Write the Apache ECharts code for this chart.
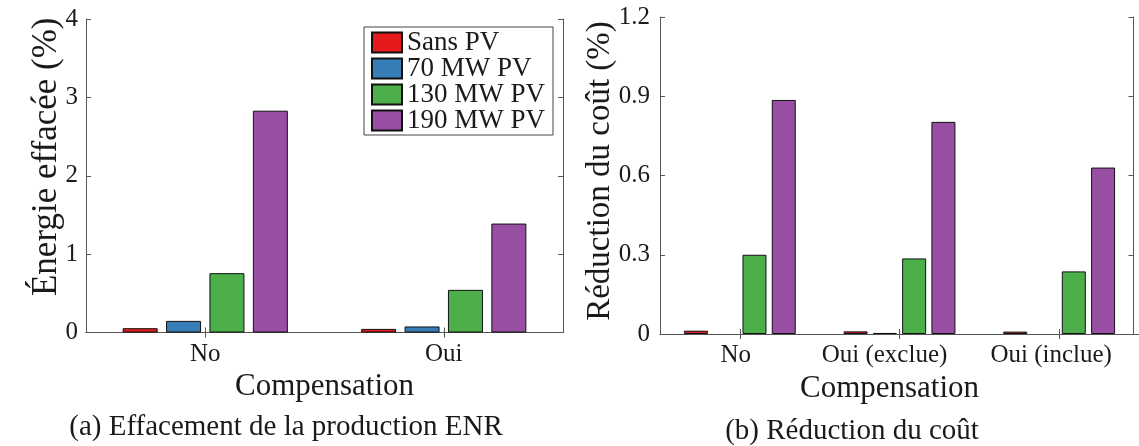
<!DOCTYPE html>
<html>
<head>
<meta charset="utf-8">
<script src="https://cdn.jsdelivr.net/npm/echarts@6/dist/echarts.min.js"></script>
<style>
html,body{margin:0;padding:0;background:#fff;}
#c{width:1139px;height:446px;}
</style>
</head>
<body>
<div id="c"></div>
<script>
// ---- data ----
const catsA = ['No', 'Oui'];
const catsB = ['No', 'Oui (exclue)', 'Oui (inclue)'];
const seriesNames = ['Sans PV', '70 MW PV', '130 MW PV', '190 MW PV'];
const sansPV_A = [0.055, 0.046];
const pv70_A = [0.148, 0.077];
const pv130_A = [0.757, 0.544];
const pv190_A = [2.83, 1.39];
const sansPV_B = [0.0125, 0.010, 0.009];
const pv70_B = [null, 0.004, null];
const pv130_B = [0.30, 0.286, 0.237];
const pv190_B = [0.886, 0.803, 0.63];
const yTicksA = [0, 1, 2, 3, 4];
const yTicksB = [0, 0.3, 0.6, 0.9, 1.2];
const colors = ['#E41A1C', '#377EB8', '#4DAF4A', '#984EA3'];

const FONT = '"Liberation Serif", "Times New Roman", "DejaVu Serif", serif';
const AX = '#555';
const TXT = '#1a1a1a';

function valAxis(grid, ticks, opts) {
  return Object.assign({
    type: 'value', gridIndex: grid,
    min: ticks[0], max: ticks[ticks.length - 1],
    interval: ticks[1] - ticks[0],
    axisLine: {show: true, lineStyle: {color: AX, width: 1}},
    axisTick: {show: true, inside: true, length: 5, lineStyle: {color: AX}},
    splitLine: {show: false},
    axisLabel: {show: true, fontFamily: FONT, fontSize: 25, color: TXT,
      formatter: v => String(v)}
  }, opts);
}
function catAxis(grid, cats, opts) {
  return Object.assign({
    type: 'category', gridIndex: grid, data: cats, boundaryGap: true,
    axisLine: {show: true, lineStyle: {color: AX, width: 1}},
    axisTick: {show: true, inside: true, length: 5, alignWithLabel: true, interval: 0, lineStyle: {color: AX}},
    splitLine: {show: false},
    axisLabel: {show: true, interval: 0, hideOverlap: false, fontFamily: FONT, fontSize: 25, color: TXT, margin: 9}
  }, opts);
}

const dataA = [sansPV_A, pv70_A, pv130_A, pv190_A];
const dataB = [sansPV_B, pv70_B, pv130_B, pv190_B];
const series = [];
dataA.forEach((d, i) => series.push({
  name: seriesNames[i], type: 'bar', xAxisIndex: 0, yAxisIndex: 0,
  data: d, barWidth: 35, barGap: '24%',
  itemStyle: {color: colors[i], borderColor: '#111', borderWidth: 1}
}));
dataB.forEach((d, i) => series.push({
  name: seriesNames[i], type: 'bar', xAxisIndex: 2, yAxisIndex: 2,
  data: d, barWidth: 24, barGap: '22%',
  itemStyle: {color: colors[i], borderColor: '#111', borderWidth: 1}
}));

// right-panel tick label nudges (labels sit slightly left of their ticks in the reference)
const richB = {
  l0: {fontFamily: FONT, fontSize: 25, color: TXT, padding: [0, 8, 0, 0]},
  l1: {fontFamily: FONT, fontSize: 25, color: TXT, padding: [0, 30, 0, 0]},
  l2: {fontFamily: FONT, fontSize: 25, color: TXT, padding: [0, 16, 0, 0]}
};

const chart = echarts.init(document.getElementById('c'), null, {renderer: 'canvas'});
chart.setOption({
  animation: false,
  backgroundColor: '#fff',
  grid: [
    {left: 86, top: 19, width: 477, height: 313.5},
    {left: 660, top: 17, width: 483.5, height: 317}
  ],
  xAxis: [
    catAxis(0, catsA, {position: 'bottom', name: 'Compensation', nameLocation: 'middle', nameGap: 33,
      nameTextStyle: {fontFamily: FONT, fontSize: 31, color: TXT}}),
    catAxis(0, catsA, {position: 'top', axisLabel: {show: false}}),
    catAxis(1, catsB, {position: 'bottom', name: 'Compensation', nameLocation: 'middle', nameGap: 34,
      nameTextStyle: {fontFamily: FONT, fontSize: 31, color: TXT, padding: [0, 20, 0, 0]},
      axisLabel: {show: true, interval: 0, hideOverlap: false, fontFamily: FONT, fontSize: 25, color: TXT, margin: 9,
        formatter: (v, i) => '{l' + i + '|' + v + '}', rich: richB}}),
    catAxis(1, catsB, {position: 'top', axisLabel: {show: false}})
  ],
  yAxis: [
    valAxis(0, yTicksA, {position: 'left', name: 'Énergie effacée (%)', nameLocation: 'middle', nameGap: 22,
      nameMoveOverlap: false,
      nameTextStyle: {fontFamily: FONT, fontSize: 35, color: TXT, padding: [0, 0, 0, 38]},
      axisLabel: {show: true, fontFamily: FONT, fontSize: 25, color: TXT, margin: 8}}),
    valAxis(0, yTicksA, {position: 'right', axisLabel: {show: false}}),
    valAxis(1, yTicksB, {position: 'left', name: 'Réduction du coût (%)', nameLocation: 'middle', nameGap: 43,
      nameMoveOverlap: false,
      nameTextStyle: {fontFamily: FONT, fontSize: 33, color: TXT, padding: [0, 0, 0, 9]},
      axisLabel: {show: true, fontFamily: FONT, fontSize: 25, color: TXT, margin: 10}}),
    valAxis(1, yTicksB, {position: 'right', offset: -5.5, axisLabel: {show: false}})
  ],
  legend: {
    data: seriesNames,
    orient: 'vertical',
    left: 364, top: 27,
    width: 191,
    padding: [2, 8, 1, 7],
    itemWidth: 30, itemHeight: 20, itemGap: -1,
    itemTextGap: 3,
    icon: 'rect',
    borderColor: '#444', borderWidth: 1, borderRadius: 0,
    backgroundColor: '#fff',
    textStyle: {fontFamily: FONT, fontSize: 27, color: TXT},
    selectedMode: false
  },
  graphic: [
    {type: 'text', silent: true, x: 286, y: 427,
      style: {text: '(a) Effacement de la production ENR', font: '29px "Liberation Serif", "Times New Roman", serif',
        fill: TXT, align: 'center', verticalAlign: 'middle'}},
    {type: 'text', silent: true, x: 852, y: 431,
      style: {text: '(b) Réduction du coût', font: '29px "Liberation Serif", "Times New Roman", serif',
        fill: TXT, align: 'center', verticalAlign: 'middle'}}
  ],
  series: series
});
</script>
</body>
</html>
